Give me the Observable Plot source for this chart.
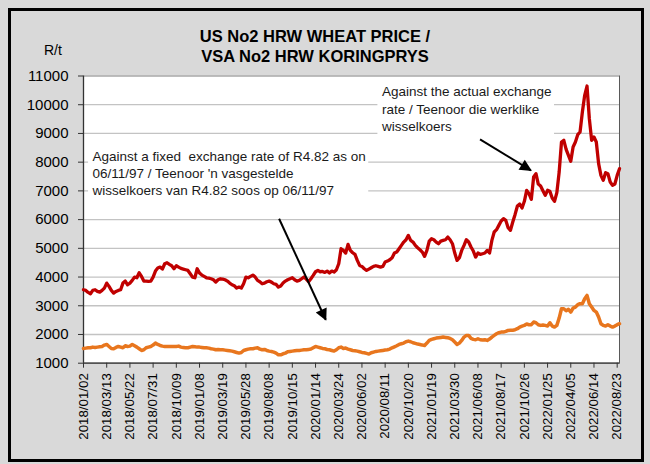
<!DOCTYPE html>
<html><head><meta charset="utf-8">
<script src="https://cdn.jsdelivr.net/npm/d3@7"></script>
<script src="https://cdn.jsdelivr.net/npm/@observablehq/plot@0.6"></script>
<style>
body{margin:0;background:#fff;}
#wrap{position:relative;width:650px;height:464px;background:#d9d9d9;overflow:hidden;font-family:"Liberation Sans",Arial,sans-serif;}
#chart{position:absolute;left:0;top:0;}
#border{position:absolute;left:8px;top:8px;width:630px;height:448px;border:3px solid #000;pointer-events:none;}
#title{position:absolute;left:0;top:27px;width:630px;text-align:center;font-weight:bold;font-size:16.5px;line-height:19.5px;color:#000;}
#unit{position:absolute;left:44px;top:42px;font-size:14px;color:#000;}
svg text{white-space:pre;}
</style></head><body>
<div id="wrap">
<div id="chart"></div>
<div id="border"></div>
<div id="title">US No2 HRW WHEAT PRICE /<br>VSA No2 HRW KORINGPRYS</div>
<div id="unit">R/t</div>
</div>
<script>
const xTickLabels = ["2018/01/02","2018/03/13","2018/05/22","2018/07/31","2018/10/09","2019/01/08","2019/03/19","2019/05/28","2019/08/08","2019/10/15","2020/01/14","2020/03/24","2020/06/02","2020/08/11","2020/10/20","2021/01/19","2021/03/30","2021/06/08","2021/08/17","2021/10/26","2022/01/25","2022/04/05","2022/06/14","2022/08/23"];
const yTicks = [1000,2000,3000,4000,5000,6000,7000,8000,9000,10000,11000];

// Price against the actual exchange rate (R/t), weekly
const actual = [3557,3534,3464,3417,3534,3557,3499,3476,3534,3615,3789,3673,3534,3441,3499,3534,3557,3789,3859,3731,
3789,3882,3998,3975,4149,4021,3859,3859,3847,3859,3998,4207,4311,4346,4277,4462,4497,4439,4393,4288,
4393,4346,4300,4277,4253,4230,4114,3998,3975,4288,4137,4068,4021,3975,3963,3940,3905,3823,3905,3940,
3928,3905,3859,3789,3731,3696,3615,3650,3615,3766,3998,3975,4021,4068,3998,3882,3835,3766,3789,3835,
3859,3823,3766,3743,3650,3690,3790,3859,3906,3941,3975,3906,3859,3883,3941,3999,3929,3836,3941,4057,
4184,4231,4184,4196,4161,4208,4138,4208,4173,4254,4463,4986,4928,4835,5137,4928,4846,4788,4579,4405,
4370,4289,4231,4277,4324,4370,4393,4370,4347,4370,4521,4556,4602,4672,4835,4870,4986,5102,5218,5299,
5450,5276,5218,5102,5020,4951,4869,4719,4928,5253,5334,5299,5218,5160,5253,5276,5299,5392,5299,5160,
4835,4579,4672,4928,5102,5299,5219,5045,4905,4696,4836,4789,4812,4836,4928,4836,5277,5567,5648,5799,
5950,6031,5973,5718,5625,5915,6180,6473,6543,6403,6636,7019,6903,6705,7483,7599,7239,7170,7007,6844,
7019,6984,6752,6636,6937,7657,8702,8760,8447,8238,8029,8528,8702,8957,9050,9747,10327,10650,9515,8760,
8876,8702,7947,7541,7367,7634,7599,7309,7193,7239,7541,7773];

// Price against a fixed exchange rate of R4.82 (R/t), weekly
const fixed = [1513,1525,1537,1537,1560,1548,1560,1572,1583,1630,1653,1583,1513,1502,1548,1583,1560,1537,1606,1583,
1595,1653,1606,1560,1502,1444,1467,1537,1560,1583,1630,1699,1653,1618,1595,1583,1583,1583,1583,1583,
1583,1595,1560,1548,1537,1537,1560,1583,1572,1560,1560,1548,1537,1537,1525,1502,1490,1467,1479,1467,
1467,1455,1444,1432,1420,1397,1374,1351,1374,1444,1467,1490,1502,1502,1525,1537,1490,1467,1479,1444,
1420,1409,1386,1351,1290,1293,1328,1351,1397,1409,1420,1432,1444,1444,1455,1467,1468,1479,1491,1537,
1584,1561,1537,1514,1502,1479,1468,1444,1421,1468,1537,1561,1514,1526,1491,1468,1444,1433,1421,1398,
1375,1363,1340,1317,1363,1387,1410,1421,1433,1444,1456,1468,1491,1537,1572,1607,1653,1677,1700,1747,
1770,1747,1712,1688,1665,1653,1630,1619,1700,1793,1828,1851,1874,1886,1897,1909,1897,1886,1862,1816,
1735,1654,1700,1793,1909,1967,1967,1863,1829,1817,1852,1817,1805,1817,1794,1840,1910,1968,2026,2061,
2084,2084,2107,2142,2150,2150,2166,2200,2259,2293,2317,2363,2340,2340,2433,2409,2340,2317,2328,2317,
2293,2409,2293,2259,2317,2572,2897,2897,2827,2874,2781,2920,2955,3036,3071,3071,3245,3361,3071,2955,
2839,2781,2607,2375,2317,2293,2340,2293,2259,2293,2340,2375];

const leftNote = "Against a fixed  exchange rate of R4.82 as on\n06/11/97 / Teenoor 'n vasgestelde\nwisselkoers van R4.82 soos op 06/11/97";
const rightNote = "Against the actual exchange\nrate / Teenoor die werklike\nwisselkoers";

const data = actual.map((v, i) => ({i, actual: v, fixed: fixed[i]}));
const xTickIdx = xTickLabels.map((_, k) => k * 10);

const chart = Plot.plot({
  width: 650, height: 464,
  marginLeft: 83, marginRight: 31, marginTop: 75.5, marginBottom: 101.3,
  style: {background: "transparent", fontFamily: "'Liberation Sans', Arial, sans-serif", color: "#000", overflow: "visible"},
  x: {domain: [0, 231], axis: null},
  y: {domain: [1000, 11000], axis: null},
  marks: [
    Plot.frame({fill: "white", stroke: "#595959", strokeWidth: 1}),
    Plot.gridY(yTicks, {stroke: "#c3c3c3", strokeOpacity: 1, strokeWidth: 1.3}),
    Plot.axisY(yTicks, {tickSize: 5, tickPadding: 10, fontSize: 15, tickFormat: d => String(d), stroke: "#333"}),
    Plot.axisX(xTickIdx, {tickSize: 5, tickPadding: 5, tickRotate: -90, fontSize: 13.3, tickFormat: d => xTickLabels[Math.round(d / 10)], stroke: "#333"}),
    Plot.ruleX([0], {stroke: "#333", strokeWidth: 1.3}),
    Plot.ruleY([1000], {stroke: "#333", strokeWidth: 1.3}),
    Plot.text([{x: 3.9, y: 8481, t: leftNote}], {x: "x", y: "y", text: "t", textAnchor: "start", lineAnchor: "top", fontSize: 13.5, lineHeight: 1.27, fill: "#1a1a1a", className: "note"}),
    Plot.text([{x: 128.6, y: 10711, t: rightNote}], {x: "x", y: "y", text: "t", textAnchor: "start", lineAnchor: "top", fontSize: 13.5, lineHeight: 1.27, fill: "#1a1a1a", className: "note"}),
    Plot.line(data, {x: "i", y: "fixed", stroke: "#e8761e", strokeWidth: 3.5}),
    Plot.line(data, {x: "i", y: "actual", stroke: "#c00000", strokeWidth: 3.3}),
    Plot.link([{x1: 84.3, y1: 6031, x2: 104.4, y2: 2512}, {x1: 170.9, y1: 8794, x2: 192.8, y2: 7714}],
      {x1: "x1", y1: "y1", x2: "x2", y2: "y2", stroke: "black", strokeWidth: 2, className: "arrowlink"})
  ]
});
document.getElementById("chart").appendChild(chart);

const svg = d3.select(chart);
// white boxes behind the annotation texts (they hide the gridlines, as in the original)
svg.selectAll("g.note").each(function () {
  const b = this.getBBox();
  d3.select(this.parentNode).insert("rect", () => this)
    .attr("x", b.x - 3).attr("y", b.y - 1).attr("width", b.width + 6).attr("height", b.height + 2)
    .attr("fill", "white");
});
// filled triangular arrowheads for the annotation arrows
const defs = svg.insert("defs", ":first-child");
defs.append("marker").attr("id", "tri").attr("viewBox", "0 0 10 10").attr("refX", 9).attr("refY", 5)
  .attr("markerWidth", 7).attr("markerHeight", 6).attr("markerUnits", "strokeWidth").attr("orient", "auto")
  .append("path").attr("d", "M0,0L10,5L0,10z").attr("fill", "black");
svg.selectAll("g.arrowlink path, path.arrowlink, g.arrowlink line").attr("marker-end", "url(#tri)");
</script>
</body></html>
